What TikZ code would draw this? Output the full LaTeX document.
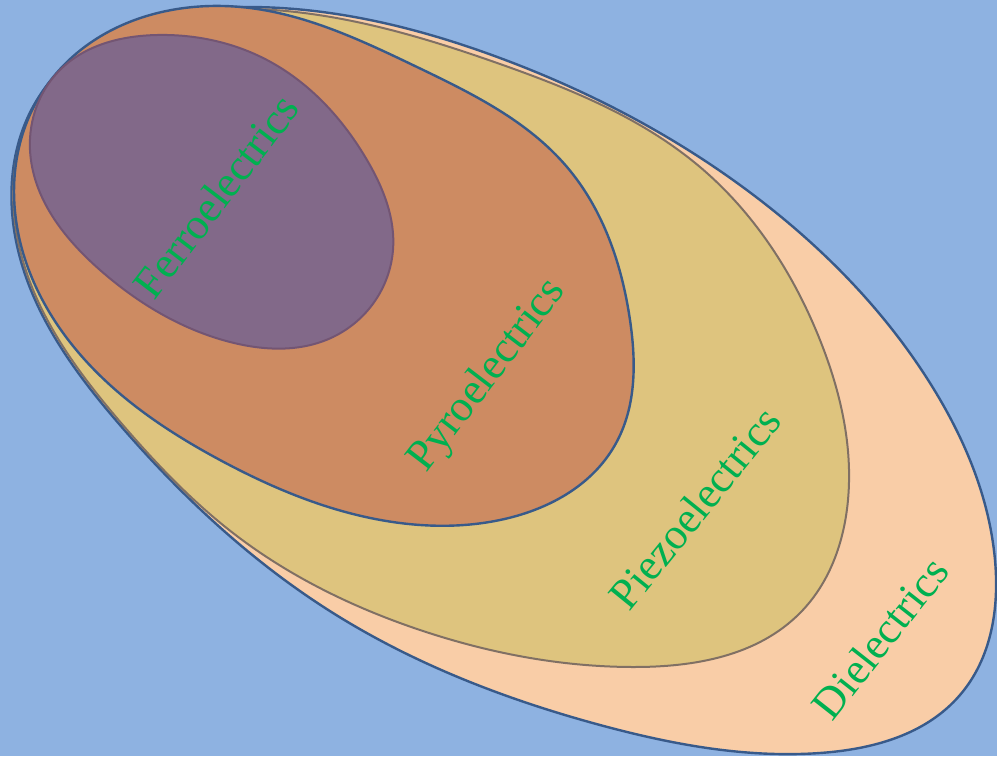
\documentclass[tikz,border=0pt]{standalone}
\usepackage{fontspec}
\setmainfont{Liberation Serif}
\usetikzlibrary{hobby}
\definecolor{bg}{RGB}{142,178,225}
\definecolor{dielfill}{RGB}{249,205,167}
\definecolor{piezofill}{RGB}{222,196,126}
\definecolor{pyrofill}{RGB}{205,139,98}
\definecolor{ferrofill}{RGB}{130,105,137}
\definecolor{bordblue}{RGB}{56,90,138}
\definecolor{bordgray}{RGB}{128,112,100}
\definecolor{bordpurp}{RGB}{115,85,115}
\definecolor{labgreen}{RGB}{0,176,80}
\tikzset{
  region/.style={line width=2.4pt, line join=round},
  lab/.style={text=labgreen, font=\fontsize{44}{44}\selectfont, inner sep=0pt}
}
\begin{document}
\begin{tikzpicture}[x=1pt,y=-1pt]
\fill[bg] (0,0) rectangle (997,756);
\useasboundingbox (0,0) rectangle (997,756);
% Dielectrics
\draw[region, draw=bordblue, fill=dielfill, use Hobby shortcut, closed=true]
(250,7) .. (500,58) .. (760,200) .. (930,383) .. (995,560) .. (960,695) .. (820,753) .. (600,725) .. (333,613) .. (120,425) .. (18,250) .. (45,88);
% Piezoelectrics
\draw[line width=2pt, draw=bordgray, fill=piezofill, use Hobby shortcut, closed=true]
(255,9) .. (500,64) .. (700,167) .. (820,340) .. (848,500) .. (800,613) .. (633,667) .. (420,630) .. (233,533) .. (122,424) .. (20,250) .. (46,89);
% Pyroelectrics
\draw[region, draw=bordblue, fill=pyrofill, use Hobby shortcut, closed=true]
(250,8) .. (417,67) .. (567,167) .. (630,320) .. (615,445) .. (500,520) .. (400,523) .. (220,460) .. (85,360) .. (16,220) .. (45,88);
% Ferroelectrics
\draw[line width=2pt, draw=bordpurp, fill=ferrofill, use Hobby shortcut, closed=true]
(157,35) .. (267,60) .. (367,160) .. (393,250) .. (333,337) .. (230,342) .. (100,270) .. (30,150) .. (62,68);
\node[lab, rotate=52.7] (ferro) at (216,196) {Ferroelectrics};
\node[lab, rotate=52.6] (pyro) at (488,376) {Pyroelectrics};
\node[lab, rotate=51] (piezo) at (695,508) {Piezoelectrics};
\node[lab, rotate=51.8] (diel) at (880,638) {Dielectrics};
\end{tikzpicture}
\end{document}
